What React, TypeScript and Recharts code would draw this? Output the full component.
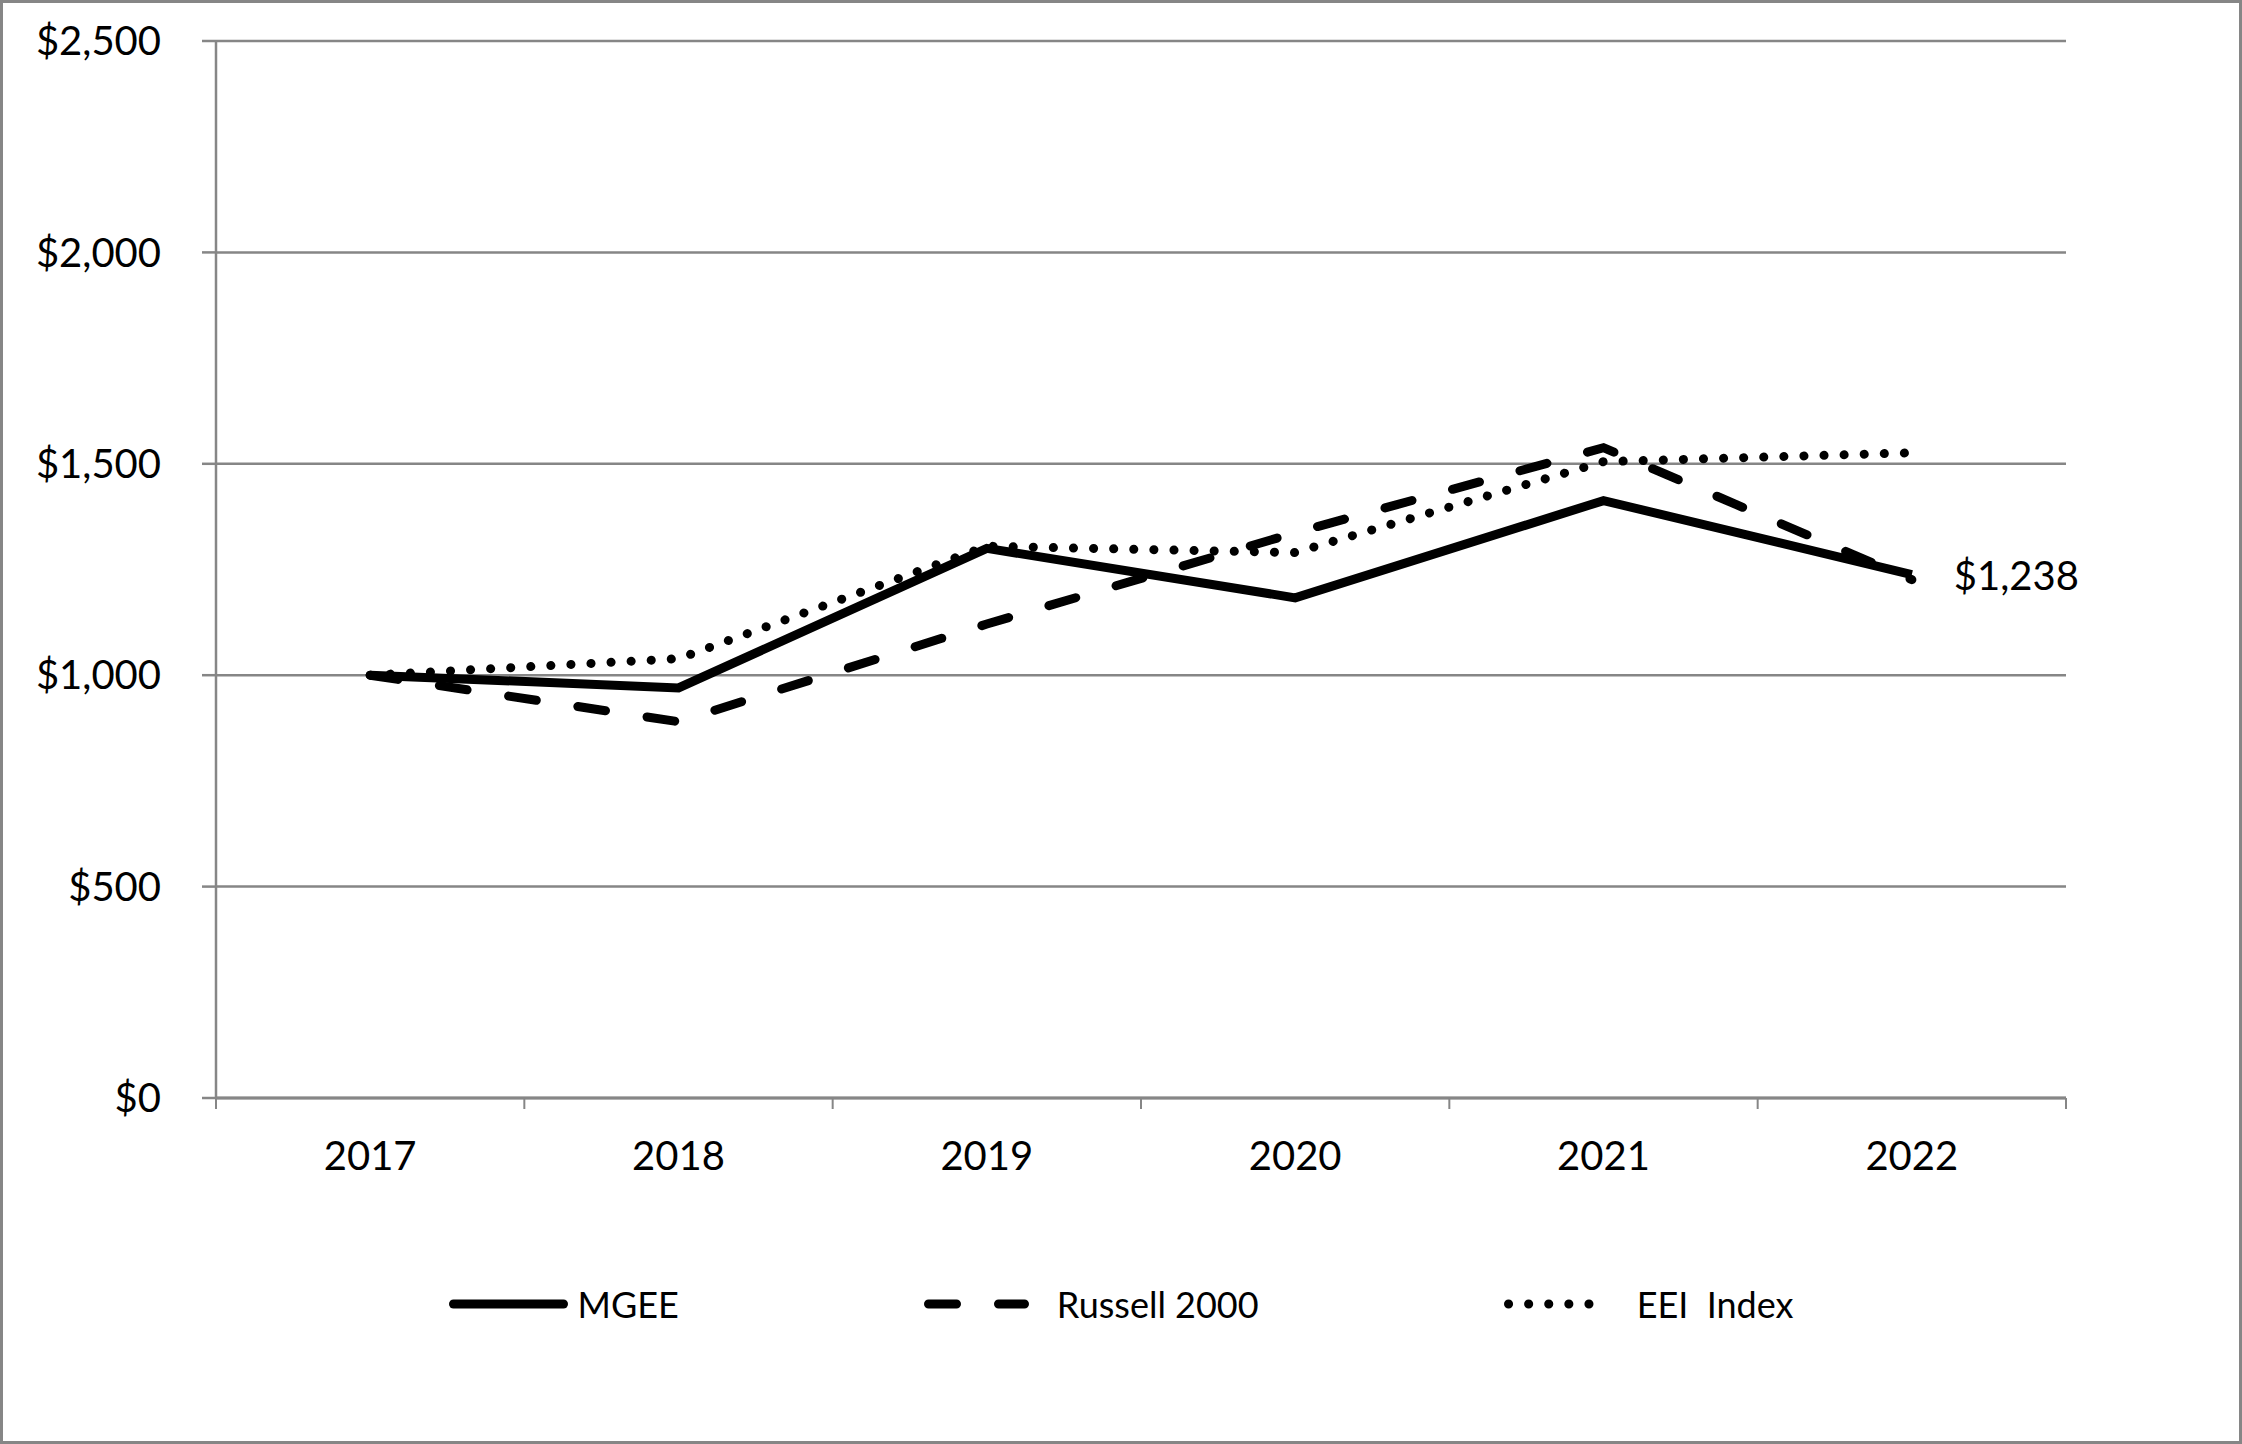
import React from 'react';
import {
  LineChart, Line, XAxis, YAxis, CartesianGrid, Legend, LabelList,
} from 'recharts';

const YEARS = ['2017', '2018', '2019', '2020', '2021', '2022'];
const MGEE = [1000, 970, 1300, 1183, 1413, 1238];
const RUSSELL = [1000, 890, 1121, 1337, 1538, 1226];
const EEI = [1000, 1039, 1305, 1290, 1505, 1526];
const Y_TICKS = [0, 500, 1000, 1500, 2000, 2500];

const W = 2242;
const H = 1444;
const FONT = 'Lato, "Open Sans", sans-serif';
const GRID = '#868686';
const PLOT_LEFT = 216;
const PLOT_RIGHT = 2066;
const HALF_BAND = (PLOT_RIGHT - PLOT_LEFT) / YEARS.length / 2;
const TICK_GAP = 44;
const LINE_W = 9;

const data = YEARS.map((year, i) => ({
  year,
  mgee: MGEE[i],
  russell: RUSSELL[i],
  eei: EEI[i],
}));

const money = (v: number) => `$${v.toLocaleString('en-US')}`;

// category ticks: label in the middle, tick marks on the band edges (Excel style)
const YearTick = ({ x, y, payload, index }: any) => {
  const top = y - TICK_GAP;
  return (
    <g>
      <line x1={x - HALF_BAND} x2={x - HALF_BAND} y1={top} y2={top + 11} stroke={GRID} strokeWidth={2} />
      {index === YEARS.length - 1 && (
        <line x1={x + HALF_BAND} x2={x + HALF_BAND} y1={top} y2={top + 11} stroke={GRID} strokeWidth={2} />
      )}
      <text x={x} y={y} dy="0.71em" textAnchor="middle" fill="#000" fontSize={40} fontFamily={FONT}>
        {payload.value}
      </text>
    </g>
  );
};

const LastLabel = ({ x, y, index, value }: any) => {
  if (index !== YEARS.length - 1) return null;
  return (
    <text x={x + 42} y={y} dy="0.38em" fill="#000" fontSize={40} fontFamily={FONT}>
      {money(value)}
    </text>
  );
};

const LEGEND = [
  { name: 'MGEE', width: 119, gap: 10, dash: undefined },
  { name: 'Russell 2000', width: 105, gap: 28, dash: '28 42' },
  { name: 'EEI  Index', width: 109, gap: 24, dash: '0.1 20' },
];

const renderLegend = () => (
  <div style={{
    display: 'flex', justifyContent: 'center', alignItems: 'center', gap: 245,
    height: 60, fontFamily: FONT, fontSize: 36, color: '#000',
  }}>
    {LEGEND.map(item => (
      <div key={item.name} style={{ display: 'flex', alignItems: 'center' }}>
        <svg width={item.width} height={20}>
          <line x1={4.5} x2={item.width - 4.5} y1={10} y2={10} stroke="#000" strokeWidth={LINE_W}
            strokeLinecap="round" strokeDasharray={item.dash} />
        </svg>
        <span style={{ marginLeft: item.gap, whiteSpace: 'pre' }}>{item.name}</span>
      </div>
    ))}
  </div>
);

export default function App() {
  return (
    <div style={{
      position: 'absolute', left: 0, top: 0, width: W, height: H, background: '#fff',
      outline: `3px solid ${GRID}`, outlineOffset: -3,
    }}>
      <LineChart width={W} height={H} data={data}
        margin={{ top: 41, right: W - PLOT_RIGHT, left: 0, bottom: 110 }}>
        <CartesianGrid vertical={false} stroke={GRID} strokeWidth={2.5} />
        <XAxis dataKey="year" scale="point" height={176}
          padding={{ left: HALF_BAND, right: HALF_BAND }}
          axisLine={{ stroke: GRID, strokeWidth: 3 }} tickLine={false} tickSize={0} tickMargin={TICK_GAP}
          tick={<YearTick />} interval={0} />
        <YAxis width={PLOT_LEFT} domain={[0, 2500]} ticks={Y_TICKS} tickFormatter={money}
          axisLine={{ stroke: GRID, strokeWidth: 2.5 }} tickLine={{ stroke: GRID, strokeWidth: 2.5 }}
          tickSize={14} tickMargin={41}
          tick={{ fill: '#000', fontSize: 40, fontFamily: FONT }} />
        <Legend verticalAlign="bottom" content={renderLegend} wrapperStyle={{ left: 0, width: W }} />
        <Line dataKey="russell" name="Russell 2000" stroke="#000" strokeWidth={LINE_W}
          strokeDasharray="28 42" strokeLinecap="round" dot={false} isAnimationActive={false} />
        <Line dataKey="eei" name="EEI  Index" stroke="#000" strokeWidth={LINE_W}
          strokeDasharray="0.1 20" strokeLinecap="round" dot={false} isAnimationActive={false} />
        <Line dataKey="mgee" name="MGEE" stroke="#000" strokeWidth={LINE_W}
          dot={false} isAnimationActive={false}>
          <LabelList dataKey="mgee" content={<LastLabel />} />
        </Line>
      </LineChart>
    </div>
  );
}
